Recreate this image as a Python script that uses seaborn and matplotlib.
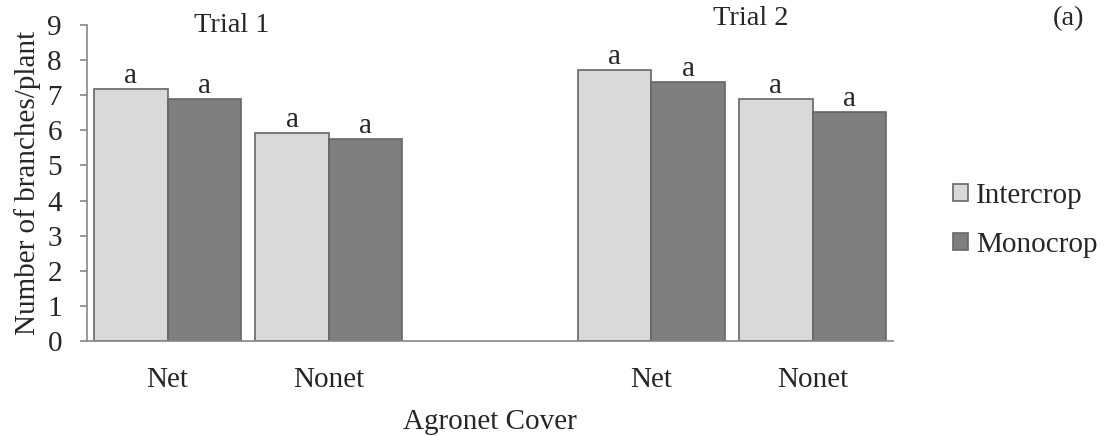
import pandas as pd
import matplotlib
matplotlib.use("Agg")
import matplotlib.pyplot as plt
import seaborn as sns

# data
positions = ["T1 Net", "T1 Nonet", "gap", "T2 Net", "T2 Nonet"]
tick_labels = ["Net", "Nonet", "", "Net", "Nonet"]
bar_keys = ["T1 Net", "T1 Nonet", "T2 Net", "T2 Nonet"]
intercrop = [7.18, 5.93, 7.71, 6.89]
monocrop = [6.89, 5.76, 7.39, 6.52]
systems = ["Intercrop", "Monocrop"]
letters = ["a", "a", "a", "a"]

df = pd.DataFrame({
    "cover": bar_keys * 2,
    "system": [systems[0]] * 4 + [systems[1]] * 4,
    "value": intercrop + monocrop,
})

sns.set_style("white")
plt.rcParams["font.family"] = ["Liberation Serif", "DejaVu Serif"]
FS = 21

fig = plt.figure(figsize=(11.05, 4.36), dpi=100)
ax = fig.add_axes([0.0787, 0.2179, 0.7297, 0.7248])

sns.barplot(data=df, x="cover", y="value", hue="system", order=positions,
            hue_order=systems, palette=["#D9D9D9", "#7F7F7F"], width=0.91,
            gap=0, edgecolor="#666666", linewidth=1.2, saturation=1,
            errorbar=None, ax=ax)

for c in ax.containers:
    ax.bar_label(c, labels=letters[:len(c)], padding=0, fontsize=FS)

ax.set_ylim(0, 9)
ax.set_yticks(range(0, 10))
ax.set_xticks(range(len(positions)))
ax.set_xticklabels(tick_labels)
ax.tick_params(axis="y", which="both", left=True, length=5, width=1.2,
               color="#868686", labelsize=FS, pad=13)
ax.tick_params(axis="x", bottom=False, labelsize=FS, pad=15)
for s in ["top", "right"]:
    ax.spines[s].set_visible(False)
for s in ["left", "bottom"]:
    ax.spines[s].set_color("#868686")
    ax.spines[s].set_linewidth(1.2)

ax.set_xlabel("Agronet Cover", fontsize=FS)
ax.xaxis.set_label_coords(0.5, -0.214)
ax.set_ylabel("Number of branches/plant", fontsize=FS)
ax.yaxis.set_label_coords(-0.057, 0.5)

ax.text(0.18, 0.997, "Trial 1", transform=ax.transAxes, ha="center",
        va="center", fontsize=20.5)
ax.text(0.823, 1.02, "Trial 2", transform=ax.transAxes, ha="center",
        va="center", fontsize=20.5)
fig.text(0.967, 0.958, "(a)", ha="center", va="center", fontsize=20.5)

h, l = ax.get_legend_handles_labels()
if ax.get_legend() is not None:
    ax.get_legend().remove()
fig.legend(h, l, loc="center left", bbox_to_anchor=(0.862, 0.495),
           frameon=False, fontsize=FS, handlelength=0.52, handleheight=0.52,
           handletextpad=0.28, labelspacing=0.8, borderpad=0, borderaxespad=0)

fig.savefig("out.png", dpi=100)
